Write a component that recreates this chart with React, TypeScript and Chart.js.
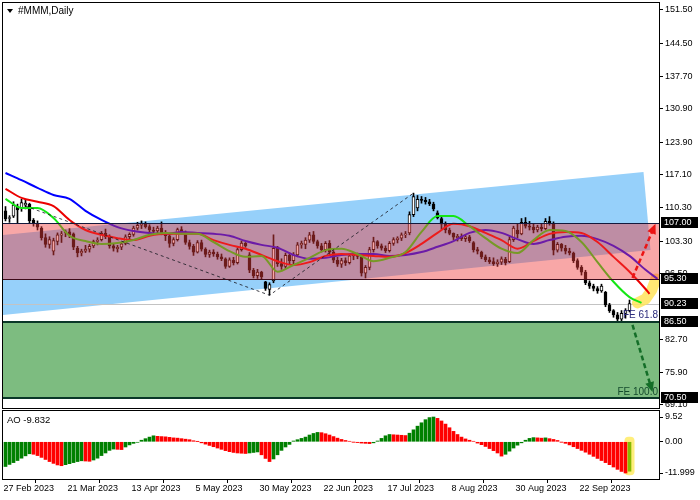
import React, { useEffect, useRef } from 'react';
import { Chart, registerables } from 'chart.js';

Chart.register(...registerables);

const FONT = "'Liberation Sans', Arial, sans-serif";

// ---- Daily OHLC (27 Feb 2023 .. 10 Oct 2023) ----
const openP = [109.6,108.0,108.5,110.5,110.2,110.8,111.0,107.6,107.0,106.0,104.0,102.6,101.2,103.2,104.5,105.0,105.2,104.8,101.8,100.8,101.2,101.6,102.3,103.2,103.6,104.9,104.2,102.3,101.7,102.0,102.8,104.2,104.7,106.0,106.6,107.0,106.3,105.6,105.4,106.0,105.0,104.4,102.8,103.6,105.7,105.2,103.0,102.2,101.0,103.0,101.6,100.5,101.0,100.6,100.0,99.6,98.0,99.3,98.8,101.5,102.8,100.4,97.2,96.1,96.8,94.8,93.2,95.0,101.8,98.6,98.0,100.3,99.2,100.4,102.5,102.6,103.5,104.6,103.2,102.3,101.5,102.8,101.0,99.3,98.5,99.2,98.8,100.2,100.5,100.0,96.6,97.8,101.5,103.2,102.3,101.8,101.3,102.8,103.6,103.9,104.6,105.0,108.8,110.2,112.0,111.8,111.5,111.0,109.2,108.0,106.8,105.6,104.9,104.0,104.3,103.8,104.2,103.0,101.5,101.0,100.0,99.4,99.0,98.6,98.9,99.5,99.0,103.6,105.6,104.8,107.2,106.4,106.2,105.6,106.2,105.9,107.4,107.0,101.4,102.6,101.8,101.2,100.8,99.2,97.8,96.8,94.6,93.9,93.4,92.9,92.6,90.0,88.8,87.9,87.0,88.2,88.8];
const highP = [110.5,108.6,111.5,111.0,112.0,112.0,111.2,108.0,107.5,106.3,104.8,104.2,103.9,105.0,105.3,105.6,105.9,105.0,102.2,101.6,102.4,102.6,103.5,104.0,105.3,105.8,104.6,102.8,102.4,103.0,104.6,105.0,106.4,107.2,107.5,107.3,106.7,106.2,106.4,107.3,105.5,104.8,104.0,106.0,106.3,105.4,103.5,102.6,103.4,103.5,101.9,101.4,101.5,101.0,100.6,99.8,99.8,99.9,101.9,103.3,103.0,100.9,97.6,97.4,97.0,94.9,94.6,104.6,102.2,99.6,100.8,100.8,100.9,103.0,103.3,104.0,105.1,105.3,103.5,102.8,103.2,103.4,101.3,99.9,99.7,99.8,100.6,100.9,100.8,100.3,98.2,102.0,104.1,103.4,102.7,102.3,103.2,104.0,104.2,105.0,105.3,109.4,113.3,112.8,112.6,112.4,112.0,111.4,109.6,108.4,107.3,106.0,105.0,104.7,104.8,104.6,104.5,103.2,102.0,101.2,100.4,99.9,99.8,99.4,100.0,99.9,104.2,106.4,106.8,108.0,108.2,107.4,106.8,106.6,106.8,108.0,108.4,107.3,103.0,102.8,102.4,101.8,101.0,99.6,98.2,97.2,95.0,94.3,93.8,94.3,92.8,90.3,89.0,88.4,88.8,89.2,91.0];
const lowP = [107.5,107.2,108.2,107.0,109.5,110.0,107.0,106.4,105.6,103.5,102.0,101.8,100.4,102.5,103.0,104.2,104.0,101.5,100.0,100.2,100.9,101.0,101.9,102.5,103.3,103.8,101.8,101.2,101.0,101.5,102.5,103.6,104.3,105.6,105.9,106.0,105.2,104.9,105.0,104.6,103.4,102.0,102.3,103.3,104.9,102.6,101.6,100.3,100.8,101.2,100.0,99.9,100.1,99.5,99.2,97.6,97.8,98.3,98.5,101.2,102.0,96.7,95.6,95.5,95.3,93.0,92.0,94.6,98.0,97.4,97.6,98.5,98.2,100.0,101.8,101.7,103.0,102.8,101.8,101.0,101.0,100.5,98.8,98.0,97.8,98.2,98.5,99.4,99.6,96.0,95.6,97.3,101.0,101.8,101.4,100.9,101.0,102.4,102.9,103.4,104.0,104.6,108.4,109.6,111.2,111.0,110.7,109.6,107.9,105.8,105.0,104.6,103.6,103.3,103.4,103.2,103.0,101.0,100.6,99.6,99.0,98.6,98.2,98.0,98.4,98.3,98.8,103.2,104.0,104.6,106.0,105.6,105.0,105.2,105.4,105.7,106.6,100.4,101.0,101.2,100.6,100.4,98.8,97.4,96.2,94.2,93.4,92.9,92.4,92.6,89.6,88.4,87.4,86.5,86.4,87.2,88.5];
const closeP = [107.9,108.2,110.8,109.8,111.3,111.2,107.5,107.0,106.2,104.0,102.6,103.6,103.4,104.6,104.8,105.3,104.6,102.0,100.8,101.2,101.6,102.2,103.2,103.5,104.9,104.2,102.3,101.8,102.0,102.7,104.2,104.7,106.0,106.6,107.0,106.3,105.6,105.3,106.0,105.0,104.4,102.8,103.6,105.7,105.2,103.0,102.2,101.0,103.0,101.6,100.5,101.0,100.6,100.0,99.6,98.0,99.4,98.8,101.5,102.9,102.3,97.2,96.1,96.8,95.8,93.4,94.2,101.8,98.6,98.0,100.3,99.2,100.4,102.5,102.8,103.5,104.6,103.2,102.3,101.5,102.8,101.0,99.3,98.5,99.2,98.8,100.2,100.6,100.1,96.6,97.8,101.5,103.2,102.3,101.8,101.3,102.8,103.6,103.9,104.6,104.8,108.8,112.6,112.0,111.8,111.5,111.1,110.0,108.2,106.8,105.6,104.9,104.1,104.3,103.8,104.2,103.4,101.5,101.2,100.0,99.4,99.0,98.6,98.9,99.6,98.8,103.6,106.0,104.8,107.2,106.4,106.2,105.6,106.2,105.9,107.4,107.0,101.4,102.6,101.8,101.2,100.8,99.2,97.8,96.8,94.6,93.9,93.4,92.9,93.9,90.0,88.8,87.9,87.0,88.2,88.8,90.23];

// ---- Alligator lines (bar index, value) ----
const jawIdx = [0,4,8,12,16,20,24,28,32,36,40,44,48,52,56,60,64,68,72,76,80,84,88,92,96,100,104,108,112,116,120,124,128,132,136,140,144,148,152,156,160,163];
const jawVals = [117.5,116.0,114.4,112.9,112.1,109.6,107.7,106.2,105.4,105.0,104.8,105.2,105.0,104.8,104.4,103.3,102.5,101.9,100.4,99.6,99.8,100.4,100.6,100.6,100.2,100.4,101.0,102.1,103.3,105.0,105.6,105.0,103.7,102.7,103.5,104.2,104.4,103.7,102.3,100.2,97.3,95.4];
const teethIdx = [0,4,8,12,16,20,24,28,32,36,40,44,48,52,56,60,64,68,72,76,80,84,88,92,96,100,104,108,112,116,120,124,128,132,136,140,144,148,152,156,160,161];
const teethVals = [114.2,112.3,111.5,110.6,107.7,105.6,104.6,103.9,103.5,104.4,104.8,104.8,104.8,103.5,102.5,101.7,100.4,99.1,98.3,98.9,100.2,100.6,100.4,100.2,100.0,100.8,102.7,105.0,106.9,106.4,105.0,103.5,101.7,103.3,104.8,105.2,105.0,103.1,100.0,96.9,93.3,92.3];
const lipsIdx = [0,4,8,12,16,20,24,28,32,36,40,44,48,52,56,60,64,68,72,76,80,84,88,92,96,100,104,108,112,116,120,124,128,132,136,140,144,148,152,156,159];
const lipsVals = [112.1,110.2,110.2,108.1,104.4,103.3,102.7,102.9,103.5,104.6,105.0,104.8,104.8,103.1,101.2,100.0,100.2,96.9,98.3,99.8,101.4,101.7,100.6,99.1,99.8,101.0,105.2,108.5,108.5,106.4,103.9,101.7,100.8,103.5,105.6,105.4,103.1,98.9,94.8,91.6,90.4];

// ---- Awesome Oscillator ----
const aoValues = [-9.5,-8.7,-8.0,-7.2,-6.3,-5.4,-4.6,-4.8,-5.3,-6.0,-6.8,-7.6,-8.3,-8.9,-9.2,-8.8,-8.4,-8.0,-7.6,-7.3,-7.4,-7.5,-7.0,-6.3,-5.3,-4.3,-3.3,-2.8,-2.9,-3.0,-2.0,-1.2,-0.6,-0.2,0.6,1.2,1.8,2.3,2.1,2.0,1.9,1.7,1.5,1.4,1.2,1.0,0.8,0.4,0.1,-0.4,-0.9,-1.4,-1.9,-2.4,-2.9,-3.4,-3.8,-4.1,-4.3,-4.4,-4.5,-4.3,-4.1,-3.9,-5.0,-6.4,-7.6,-6.6,-5.0,-3.3,-2.0,-1.0,0.3,0.8,1.3,1.8,2.6,3.2,3.6,3.5,3.1,2.6,2.0,1.4,0.9,0.5,0.2,-0.1,-0.3,-0.5,-0.6,-0.7,-0.4,0.3,1.3,2.3,2.8,2.7,2.6,2.5,2.4,3.3,4.6,6.0,7.3,8.5,9.3,9.52,9.0,8.0,6.8,5.4,4.0,2.8,1.8,1.1,0.6,0.2,-0.5,-1.1,-1.8,-2.6,-3.4,-4.3,-5.5,-4.8,-3.6,-2.4,-1.3,-0.4,0.6,1.3,1.6,1.5,1.4,1.5,1.2,0.9,0.5,-0.1,-0.6,-1.2,-1.9,-2.6,-3.3,-4.0,-4.8,-5.6,-6.4,-7.2,-8.0,-8.8,-9.7,-10.6,-11.4,-11.999,-11.3];

// ---- Axis ticks ----
const dateTickIndex = [0,16,32,48,64,80,96,112,128,144];
const dateTickLabels = ['27 Feb 2023','21 Mar 2023','13 Apr 2023','5 May 2023','30 May 2023','22 Jun 2023','17 Jul 2023','8 Aug 2023','30 Aug 2023','22 Sep 2023'];
const priceTicks = [151.5,144.5,137.7,130.9,123.9,117.1,110.3,103.3,96.5,82.7,75.9,69.1];
const aoTicks = [9.52, 0, -11.999];
const aoTickLabels = ['9.52','0.00','-11.999'];

// ---- Drawn objects (price levels, channel, Fibonacci expansion) ----
const boxedLevels = [107.0, 95.3, 90.23, 86.5, 70.5];
const pinkZone = [107.0, 95.3];
const greenZone = [86.5, 70.5];
const lastPrice = 90.23;
const channelPoly = [[-1, 104.53], [159.5, 117.71], [161.25, 101.44], [-1, 87.84]];
const fePath = [[5, 110.6], [66, 92.0], [102, 113.3]];
const upArrow = [[156.75, 95.6], [162.5, 106.9]];
const downArrow = [[156.75, 85.8], [161.75, 71.8]];
const glowPath = [[158, 90.4], [160, 91.2], [161.5, 93.0], [162.6, 95.4]];
const feLabels = [['FE 61.8', 86.5, 'rgb(45,45,125)'], ['FE 100.0', 70.5, 'rgb(20,75,45)']];

const X_MIN = -0.625;
const X_MAX = 163.375;

function dashedArrow(ctx: CanvasRenderingContext2D, x1: number, y1: number, x2: number, y2: number, color: string) {
  const ang = Math.atan2(y2 - y1, x2 - x1);
  const head = 10;
  const half = 4.5;
  ctx.save();
  ctx.strokeStyle = color;
  ctx.lineWidth = 2.5;
  ctx.setLineDash([5, 3]);
  ctx.beginPath();
  ctx.moveTo(x1, y1);
  ctx.lineTo(x2 - Math.cos(ang) * head * 0.8, y2 - Math.sin(ang) * head * 0.8);
  ctx.stroke();
  ctx.setLineDash([]);
  ctx.fillStyle = color;
  ctx.beginPath();
  ctx.moveTo(x2, y2);
  ctx.lineTo(x2 - head * Math.cos(ang) + half * Math.sin(ang), y2 - head * Math.sin(ang) - half * Math.cos(ang));
  ctx.lineTo(x2 - head * Math.cos(ang) - half * Math.sin(ang), y2 - head * Math.sin(ang) + half * Math.cos(ang));
  ctx.closePath();
  ctx.fill();
  ctx.restore();
}

const mainOverlay = {
  id: 'mainOverlay',
  beforeDatasetsDraw(chart: any) {
    const { ctx, chartArea: a } = chart;
    const xs = chart.scales.x, ys = chart.scales.y;
    ctx.save();
    ctx.beginPath();
    ctx.rect(a.left, a.top, a.right - a.left, a.bottom - a.top);
    ctx.clip();
    // blue channel
    ctx.fillStyle = 'rgb(150,208,250)';
    ctx.beginPath();
    channelPoly.forEach(([i, p], k) => {
      const px = xs.getPixelForValue(i), py = ys.getPixelForValue(p);
      if (k === 0) ctx.moveTo(px, py); else ctx.lineTo(px, py);
    });
    ctx.closePath();
    ctx.fill();
    // green zone
    const g1 = ys.getPixelForValue(greenZone[0]), g2 = ys.getPixelForValue(greenZone[1]);
    ctx.fillStyle = 'rgb(125,188,128)';
    ctx.fillRect(a.left, g1, a.right - a.left, g2 - g1);
    // current price line
    const lp = Math.round(ys.getPixelForValue(lastPrice)) + 0.5;
    ctx.strokeStyle = 'rgb(195,195,195)';
    ctx.lineWidth = 1;
    ctx.beginPath();
    ctx.moveTo(a.left, lp);
    ctx.lineTo(a.right, lp);
    ctx.stroke();
    // yellow highlight
    ctx.strokeStyle = 'rgba(255,228,90,0.85)';
    ctx.lineWidth = 11;
    ctx.lineCap = 'round';
    ctx.lineJoin = 'round';
    ctx.beginPath();
    glowPath.forEach(([i, p], k) => {
      const px = xs.getPixelForValue(i), py = ys.getPixelForValue(p);
      if (k === 0) ctx.moveTo(px, py); else ctx.lineTo(px, py);
    });
    ctx.stroke();
    ctx.restore();
  },
  afterDatasetsDraw(chart: any) {
    const { ctx, chartArea: a } = chart;
    const xs = chart.scales.x, ys = chart.scales.y;
    ctx.save();
    ctx.beginPath();
    ctx.rect(a.left, a.top, a.right - a.left, a.bottom - a.top);
    ctx.clip();
    // pink zone overlay
    const p1 = ys.getPixelForValue(pinkZone[0]), p2 = ys.getPixelForValue(pinkZone[1]);
    ctx.fillStyle = 'rgba(240,60,60,0.45)';
    ctx.fillRect(a.left, p1, a.right - a.left, p2 - p1);
    // level lines
    const hline = (v: number, color: string, w: number) => {
      const yy = w % 2 === 1 ? Math.round(ys.getPixelForValue(v)) + 0.5 : Math.round(ys.getPixelForValue(v));
      ctx.strokeStyle = color;
      ctx.lineWidth = w;
      ctx.beginPath();
      ctx.moveTo(a.left, yy);
      ctx.lineTo(a.right, yy);
      ctx.stroke();
    };
    hline(pinkZone[0], 'rgb(20,25,60)', 1);
    hline(pinkZone[1], 'rgb(60,10,25)', 1);
    hline(greenZone[0], 'rgb(10,55,40)', 2);
    hline(greenZone[1], 'rgb(10,55,40)', 2);
    // Fibonacci expansion path
    ctx.strokeStyle = 'rgba(30,30,40,0.85)';
    ctx.lineWidth = 1;
    ctx.setLineDash([3, 3]);
    ctx.beginPath();
    fePath.forEach(([i, p], k) => {
      const px = xs.getPixelForValue(i), py = ys.getPixelForValue(p);
      if (k === 0) ctx.moveTo(px, py); else ctx.lineTo(px, py);
    });
    ctx.stroke();
    ctx.setLineDash([]);
    // arrows
    dashedArrow(ctx, xs.getPixelForValue(upArrow[0][0]), ys.getPixelForValue(upArrow[0][1]),
      xs.getPixelForValue(upArrow[1][0]), ys.getPixelForValue(upArrow[1][1]), 'rgb(235,20,20)');
    dashedArrow(ctx, xs.getPixelForValue(downArrow[0][0]), ys.getPixelForValue(downArrow[0][1]),
      xs.getPixelForValue(downArrow[1][0]), ys.getPixelForValue(downArrow[1][1]), 'rgb(20,110,40)');
    // FE labels
    ctx.font = `10px ${FONT}`;
    ctx.textAlign = 'right';
    ctx.textBaseline = 'bottom';
    feLabels.forEach(([t, v, c]) => {
      ctx.fillStyle = c as string;
      ctx.fillText(t as string, a.right - 1, ys.getPixelForValue(v as number) - 1);
    });
    ctx.restore();
  },
  afterDraw(chart: any) {
    const { ctx, chartArea: a } = chart;
    const ys = chart.scales.y;
    ctx.save();
    // frame
    ctx.strokeStyle = '#000';
    ctx.lineWidth = 1;
    ctx.strokeRect(a.left - 0.5, a.top - 0.5, a.right - a.left + 1, a.bottom - a.top + 1);
    // boxed price labels
    ctx.font = `9px ${FONT}`;
    ctx.textAlign = 'left';
    ctx.textBaseline = 'middle';
    boxedLevels.forEach((v) => {
      const yy = Math.round(ys.getPixelForValue(v));
      ctx.fillStyle = '#000';
      ctx.fillRect(a.right + 2, yy - 6, 37, 11);
      ctx.fillStyle = '#fff';
      ctx.fillText(v.toFixed(2), a.right + 5, yy);
    });
    // title
    ctx.fillStyle = '#000';
    ctx.beginPath();
    ctx.moveTo(7, 9);
    ctx.lineTo(13, 9);
    ctx.lineTo(10, 13);
    ctx.closePath();
    ctx.fill();
    ctx.font = `10px ${FONT}`;
    ctx.textBaseline = 'middle';
    ctx.fillText('#MMM,Daily', 18, 11);
    ctx.restore();
  },
};

const aoOverlay = {
  id: 'aoOverlay',
  beforeDatasetsDraw(chart: any) {
    const { ctx } = chart;
    const xs = chart.scales.x, ys = chart.scales.y;
    const last = aoValues.length - 1;
    const cx = xs.getPixelForValue(last);
    const yTop = ys.getPixelForValue(0) - 5;
    const yBot = ys.getPixelForValue(aoValues[last]) + 4;
    ctx.save();
    ctx.fillStyle = 'rgba(255,235,100,0.85)';
    ctx.beginPath();
    (ctx as any).roundRect(cx - 5, yTop, 10, yBot - yTop, 4);
    ctx.fill();
    ctx.restore();
  },
  afterDraw(chart: any) {
    const { ctx, chartArea: a } = chart;
    ctx.save();
    ctx.strokeStyle = '#000';
    ctx.lineWidth = 1;
    ctx.strokeRect(a.left - 0.5, a.top - 0.5, a.right - a.left + 1, a.bottom - a.top + 1);
    ctx.fillStyle = '#000';
    ctx.font = `9.5px ${FONT}`;
    ctx.textAlign = 'left';
    ctx.textBaseline = 'middle';
    ctx.fillText('AO -9.832', 7, a.top + 9);
    ctx.restore();
  },
};

export default function App() {
  const mainRef = useRef<HTMLCanvasElement>(null);
  const aoRef = useRef<HTMLCanvasElement>(null);

  useEffect(() => {
    const idx = openP.map((_, i) => i);
    const bodyData = idx.map((i) => ({ x: i, y: [openP[i], closeP[i]] }));
    const wickData = idx.map((i) => ({ x: i, y: [lowP[i], highP[i]] }));
    const bodyColors = idx.map((i) => (closeP[i] >= openP[i] ? '#ffffff' : '#000000'));
    const toPts = (ix: number[], vals: number[]) => ix.map((x, k) => ({ x, y: vals[k] }));

    const dateTicks = (s: any) => { s.ticks = dateTickIndex.map((i) => ({ value: i - 0.5 })); };

    const main = new Chart(mainRef.current as HTMLCanvasElement, {
      type: 'bar',
      data: {
        datasets: [
          { type: 'line', label: 'Lips', data: toPts(lipsIdx, lipsVals), borderColor: 'rgb(20,230,20)', borderWidth: 2, pointRadius: 0, cubicInterpolationMode: 'monotone', fill: false } as any,
          { type: 'line', label: 'Teeth', data: toPts(teethIdx, teethVals), borderColor: 'rgb(235,0,0)', borderWidth: 2, pointRadius: 0, cubicInterpolationMode: 'monotone', fill: false } as any,
          { type: 'line', label: 'Jaw', data: toPts(jawIdx, jawVals), borderColor: 'rgb(0,0,255)', borderWidth: 2, pointRadius: 0, cubicInterpolationMode: 'monotone', fill: false } as any,
          { type: 'bar', label: 'Body', data: bodyData, backgroundColor: bodyColors, borderColor: '#000', borderWidth: 1, borderSkipped: false, grouped: false, barThickness: 3, maxBarThickness: 3, minBarLength: 1 } as any,
          { type: 'bar', label: 'Wick', data: wickData, backgroundColor: '#000', borderWidth: 0, grouped: false, barThickness: 1, maxBarThickness: 1 } as any,
        ],
      },
      options: {
        animation: false,
        responsive: false,
        devicePixelRatio: 1,
        events: [],
        layout: { padding: { left: 3, top: 3, right: 0, bottom: 4 } },
        plugins: { legend: { display: false }, tooltip: { enabled: false } },
        scales: {
          x: { type: 'linear', min: X_MIN, max: X_MAX, display: false, offset: false, afterBuildTicks: dateTicks },
          y: {
            type: 'linear', position: 'right', min: 68.47, max: 152.96,
            afterBuildTicks: (s: any) => { s.ticks = priceTicks.map((v) => ({ value: v })); },
            afterFit: (s: any) => { s.width = 41; s.paddingTop = 0; s.paddingBottom = 0; },
            ticks: { color: '#000', font: { family: FONT, size: 9 }, padding: 2, autoSkip: false, callback: (v: any) => Number(v).toFixed(2) },
            grid: { drawOnChartArea: false, drawTicks: true, tickLength: 4, color: '#000' },
            border: { color: '#000' },
          },
        },
      } as any,
      plugins: [mainOverlay],
    });

    const last = aoValues.length - 1;
    const aoColors = aoValues.map((v, i) =>
      i === last ? 'rgb(135,185,0)' : (i === 0 || v >= aoValues[i - 1]) ? 'rgb(0,128,0)' : 'rgb(255,0,0)');

    const ao = new Chart(aoRef.current as HTMLCanvasElement, {
      type: 'bar',
      data: {
        datasets: [
          { label: 'AO', data: aoValues.map((v, i) => ({ x: i, y: v })), backgroundColor: aoColors, borderWidth: 0, barThickness: 3 } as any,
        ],
      },
      options: {
        animation: false,
        responsive: false,
        devicePixelRatio: 1,
        events: [],
        layout: { padding: { left: 3, top: 2, right: 0, bottom: 0 } },
        plugins: { legend: { display: false }, tooltip: { enabled: false } },
        scales: {
          x: {
            type: 'linear', min: X_MIN, max: X_MAX, offset: false, position: 'bottom',
            afterBuildTicks: dateTicks,
            afterFit: (s: any) => { s.height = 21; s.paddingLeft = 0; s.paddingRight = 0; },
            ticks: {
              color: '#000', font: { family: FONT, size: 9 }, align: 'start', maxRotation: 0, minRotation: 0, autoSkip: false, padding: 0,
              callback: (v: any) => { const k = dateTickIndex.indexOf(Math.round(Number(v) + 0.5)); return k >= 0 ? dateTickLabels[k] : ''; },
            },
            grid: { drawOnChartArea: false, drawTicks: true, tickLength: 4, color: '#000' },
            border: { color: '#000' },
          },
          y: {
            type: 'linear', position: 'right', min: -14.3, max: 11.83,
            afterBuildTicks: (s: any) => { s.ticks = aoTicks.map((v) => ({ value: v })); },
            afterFit: (s: any) => { s.width = 41; s.paddingTop = 0; s.paddingBottom = 0; },
            ticks: { color: '#000', font: { family: FONT, size: 9 }, padding: 2, autoSkip: false, callback: (v: any) => { const k = aoTicks.indexOf(Number(v)); return k >= 0 ? aoTickLabels[k] : ''; } },
            grid: { drawOnChartArea: false, drawTicks: true, tickLength: 4, color: '#000' },
            border: { color: '#000' },
          },
        },
      } as any,
      plugins: [aoOverlay],
    });

    return () => { main.destroy(); ao.destroy(); };
  }, []);

  return (
    <div style={{ position: 'fixed', left: 0, top: 0, width: 700, height: 500, background: '#fff' }}>
      <canvas ref={mainRef} width={700} height={412} style={{ position: 'absolute', left: 0, top: 0, width: 700, height: 412 }} />
      <canvas ref={aoRef} width={700} height={91} style={{ position: 'absolute', left: 0, top: 409, width: 700, height: 91 }} />
    </div>
  );
}
